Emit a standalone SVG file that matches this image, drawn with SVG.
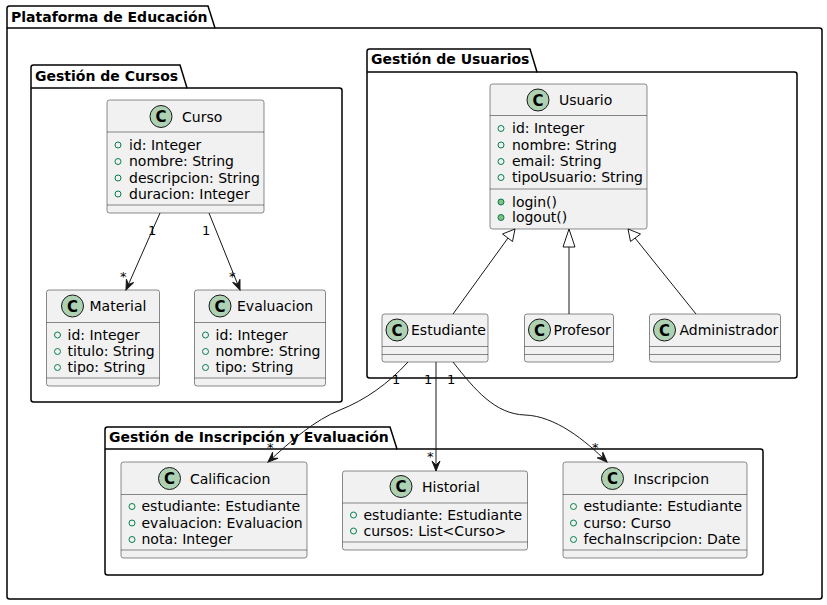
<svg xmlns="http://www.w3.org/2000/svg" width="827" height="605" viewBox="0 0 827 605">
<style>
.pkg{fill:none;stroke:#000;stroke-width:1.5}
.pt{font-family:"DejaVu Sans",sans-serif;font-size:14px;font-weight:bold;fill:#000}
.box{fill:#F1F1F1;stroke:#181818;stroke-width:0.5}
.sep{stroke:#181818;stroke-width:0.5}
.ci{fill:#ADD1B2;stroke:#181818;stroke-width:1}
.cl{font-family:"DejaVu Sans",sans-serif;font-size:15px;font-weight:bold;fill:#000;text-anchor:middle}
.nm{font-family:"DejaVu Sans",sans-serif;font-size:14px;fill:#000}
.at{font-family:"DejaVu Sans",sans-serif;font-size:14px;fill:#000}
.va{fill:none;stroke:#038048;stroke-width:1}
.vm{fill:#84BE84;stroke:#038048;stroke-width:1}
.ln{fill:none;stroke:#181818;stroke-width:1}
.ml{font-family:"DejaVu Sans",sans-serif;font-size:13px;fill:#000}
.tri{fill:none;stroke:#181818;stroke-width:1}
</style>
<defs>
<marker id="arr" markerUnits="userSpaceOnUse" markerWidth="14" markerHeight="12" refX="11" refY="5" orient="auto" viewBox="0 0 14 10">
<path d="M11,5 L1,1 L5,5 L1,9 Z" fill="#181818" stroke="#181818" stroke-width="1"/>
</marker>
</defs>

<g id="pkg-plataforma">
<path class="pkg" d="M7,8.5 Q7,6 9.5,6 L208,6 L215,28 L819.5,28 Q822,28 822,30.5 L822,596.5 Q822,599 819.5,599 L9.5,599 Q7,599 7,596.5 Z"/>
<line class="pkg" x1="7" y1="28" x2="215" y2="28"/>
<text class="pt" x="11" y="22">Plataforma de Educación</text>
</g>

<g id="pkg-cursos">
<path class="pkg" d="M31,67.5 Q31,65 33.5,65 L180,65 L187,88 L339.5,88 Q342,88 342,90.5 L342,399.5 Q342,402 339.5,402 L33.5,402 Q31,402 31,399.5 Z"/>
<line class="pkg" x1="31" y1="88" x2="187" y2="88"/>
<text class="pt" x="35" y="81">Gestión de Cursos</text>
</g>

<g id="pkg-usuarios">
<path class="pkg" d="M367,51.5 Q367,49 369.5,49 L530,49 L537,72 L794.5,72 Q797,72 797,74.5 L797,375.5 Q797,378 794.5,378 L369.5,378 Q367,378 367,375.5 Z"/>
<line class="pkg" x1="367" y1="72" x2="537" y2="72"/>
<text class="pt" x="371" y="64">Gestión de Usuarios</text>
</g>

<g id="pkg-inscripcion">
<path class="pkg" d="M105,429.5 Q105,427 107.5,427 L390,427 L397,449 L760.5,449 Q763,449 763,451.5 L763,572.5 Q763,575 760.5,575 L107.5,575 Q105,575 105,572.5 Z"/>
<line class="pkg" x1="105" y1="449" x2="397" y2="449"/>
<text class="pt" x="109" y="442">Gestión de Inscripción y Evaluación</text>
</g>

<g id="Curso">
<rect class="box" x="107" y="100" width="157" height="113" rx="2.5"/>
<circle class="ci" cx="161" cy="116.5" r="11"/>
<text class="cl" x="161" y="122">C</text>
<text class="nm" x="182" y="121.5">Curso</text>
<line class="sep" x1="107" y1="132" x2="264" y2="132"/>
<circle class="va" cx="118" cy="145" r="3"/><text class="at" x="129" y="149.5">id: Integer</text>
<circle class="va" cx="118" cy="161.5" r="3"/><text class="at" x="129" y="166">nombre: String</text>
<circle class="va" cx="118" cy="178" r="3"/><text class="at" x="129" y="182.5">descripcion: String</text>
<circle class="va" cx="118" cy="194" r="3"/><text class="at" x="129" y="198.5">duracion: Integer</text>
<line class="sep" x1="107" y1="205" x2="264" y2="205"/>
</g>

<g id="Material">
<rect class="box" x="46.5" y="290" width="113" height="96" rx="2.5"/>
<circle class="ci" cx="72.5" cy="306" r="11"/>
<text class="cl" x="72.5" y="311.5">C</text>
<text class="nm" x="89.5" y="311">Material</text>
<line class="sep" x1="46.5" y1="322.5" x2="159.5" y2="322.5"/>
<circle class="va" cx="57.5" cy="335" r="3"/><text class="at" x="67.5" y="339.5">id: Integer</text>
<circle class="va" cx="57.5" cy="351.5" r="3"/><text class="at" x="67.5" y="356">titulo: String</text>
<circle class="va" cx="57.5" cy="367.5" r="3"/><text class="at" x="67.5" y="372">tipo: String</text>
<line class="sep" x1="46.5" y1="378" x2="159.5" y2="378"/>
</g>

<g id="Evaluacion">
<rect class="box" x="194.5" y="290" width="131" height="96" rx="2.5"/>
<circle class="ci" cx="220" cy="306" r="11"/>
<text class="cl" x="220" y="311.5">C</text>
<text class="nm" x="237" y="311">Evaluacion</text>
<line class="sep" x1="194.5" y1="322.5" x2="325.5" y2="322.5"/>
<circle class="va" cx="205.5" cy="335" r="3"/><text class="at" x="215.5" y="339.5">id: Integer</text>
<circle class="va" cx="205.5" cy="351.5" r="3"/><text class="at" x="215.5" y="356">nombre: String</text>
<circle class="va" cx="205.5" cy="367.5" r="3"/><text class="at" x="215.5" y="372">tipo: String</text>
<line class="sep" x1="194.5" y1="378" x2="325.5" y2="378"/>
</g>

<g id="Usuario">
<rect class="box" x="490" y="84" width="157" height="145" rx="2.5"/>
<circle class="ci" cx="538" cy="100" r="11"/>
<text class="cl" x="538" y="105.5">C</text>
<text class="nm" x="559" y="105">Usuario</text>
<line class="sep" x1="490" y1="115.5" x2="647" y2="115.5"/>
<circle class="va" cx="501" cy="128.5" r="3"/><text class="at" x="512" y="133">id: Integer</text>
<circle class="va" cx="501" cy="145" r="3"/><text class="at" x="512" y="149.5">nombre: String</text>
<circle class="va" cx="501" cy="161.5" r="3"/><text class="at" x="512" y="166">email: String</text>
<circle class="va" cx="501" cy="177.5" r="3"/><text class="at" x="512" y="182">tipoUsuario: String</text>
<line class="sep" x1="490" y1="189" x2="647" y2="189"/>
<circle class="vm" cx="501" cy="202" r="3"/><text class="at" x="512" y="206.5">login()</text>
<circle class="vm" cx="501" cy="217.5" r="3"/><text class="at" x="512" y="222">logout()</text>
</g>

<g id="Estudiante">
<rect class="box" x="382" y="314" width="106" height="48" rx="2.5"/>
<circle class="ci" cx="397" cy="330" r="11"/>
<text class="cl" x="397" y="335.5">C</text>
<text class="nm" x="411" y="335">Estudiante</text>
<line class="sep" x1="382" y1="346.5" x2="488" y2="346.5"/>
<line class="sep" x1="382" y1="354.5" x2="488" y2="354.5"/>
</g>

<g id="Profesor">
<rect class="box" x="524.5" y="314" width="89" height="48" rx="2.5"/>
<circle class="ci" cx="539.5" cy="330" r="11"/>
<text class="cl" x="539.5" y="335.5">C</text>
<text class="nm" x="553.5" y="335">Profesor</text>
<line class="sep" x1="524.5" y1="346.5" x2="613.5" y2="346.5"/>
<line class="sep" x1="524.5" y1="354.5" x2="613.5" y2="354.5"/>
</g>

<g id="Administrador">
<rect class="box" x="649.5" y="314" width="131" height="48" rx="2.5"/>
<circle class="ci" cx="664.5" cy="330" r="11"/>
<text class="cl" x="664.5" y="335.5">C</text>
<text class="nm" x="679.5" y="335">Administrador</text>
<line class="sep" x1="649.5" y1="346.5" x2="780.5" y2="346.5"/>
<line class="sep" x1="649.5" y1="354.5" x2="780.5" y2="354.5"/>
</g>

<g id="Calificacion">
<rect class="box" x="121" y="462" width="186" height="96" rx="2.5"/>
<circle class="ci" cx="169.5" cy="478.5" r="11"/>
<text class="cl" x="169.5" y="484">C</text>
<text class="nm" x="190" y="483.5">Calificacion</text>
<line class="sep" x1="121" y1="494.5" x2="307" y2="494.5"/>
<circle class="va" cx="132" cy="506.5" r="3"/><text class="at" x="141.5" y="511">estudiante: Estudiante</text>
<circle class="va" cx="132" cy="523" r="3"/><text class="at" x="141.5" y="527.5">evaluacion: Evaluacion</text>
<circle class="va" cx="132" cy="539.5" r="3"/><text class="at" x="141.5" y="544">nota: Integer</text>
<line class="sep" x1="121" y1="550" x2="307" y2="550"/>
</g>

<g id="Historial">
<rect class="box" x="342.5" y="471" width="185" height="79" rx="2.5"/>
<circle class="ci" cx="401" cy="486.5" r="11"/>
<text class="cl" x="401" y="492">C</text>
<text class="nm" x="422" y="491.5">Historial</text>
<line class="sep" x1="342.5" y1="503" x2="527.5" y2="503"/>
<circle class="va" cx="353.5" cy="515" r="3"/><text class="at" x="363.5" y="519.5">estudiante: Estudiante</text>
<circle class="va" cx="353.5" cy="531" r="3"/><text class="at" x="363.5" y="535.5">cursos: List&lt;Curso&gt;</text>
<line class="sep" x1="342.5" y1="542" x2="527.5" y2="542"/>
</g>

<g id="Inscripcion">
<rect class="box" x="563" y="462" width="184" height="96" rx="2.5"/>
<circle class="ci" cx="612.5" cy="478.5" r="11"/>
<text class="cl" x="612.5" y="484">C</text>
<text class="nm" x="633.5" y="483.5">Inscripcion</text>
<line class="sep" x1="563" y1="494.5" x2="747" y2="494.5"/>
<circle class="va" cx="573.5" cy="506.5" r="3"/><text class="at" x="583.5" y="511">estudiante: Estudiante</text>
<circle class="va" cx="573.5" cy="523" r="3"/><text class="at" x="583.5" y="527.5">curso: Curso</text>
<circle class="va" cx="573.5" cy="539.5" r="3"/><text class="at" x="583.5" y="544">fechaInscripcion: Date</text>
<line class="sep" x1="563" y1="550" x2="747" y2="550"/>
</g>

<g id="connectors">
<!-- Curso associations -->
<line class="ln" x1="160" y1="213" x2="126" y2="290" marker-end="url(#arr)"/>
<text class="ml" x="148" y="235">1</text>
<text class="ml" x="120" y="281">*</text>
<line class="ln" x1="209" y1="213" x2="240" y2="290" marker-end="url(#arr)"/>
<text class="ml" x="202" y="235">1</text>
<text class="ml" x="229" y="281">*</text>

<!-- Inheritance -->
<line class="ln" x1="453" y1="314" x2="508" y2="238"/>
<path class="tri" d="M515,229 L502.5,234 L512.5,241.5 Z"/>
<line class="ln" x1="569" y1="314" x2="569" y2="247"/>
<path class="tri" d="M569,229 L563,247 L575,247 Z"/>
<line class="ln" x1="696" y1="314" x2="635" y2="238"/>
<path class="tri" d="M628,229 L630.5,241.5 L640.5,234 Z"/>

<!-- Estudiante associations -->
<path class="ln" d="M408,362 C388,384 365,400 340,410 C315,420 292,440 268,462" marker-end="url(#arr)"/>
<text class="ml" x="392" y="384">1</text>
<text class="ml" x="267" y="452">*</text>
<line class="ln" x1="436" y1="362" x2="436" y2="471" marker-end="url(#arr)"/>
<text class="ml" x="424" y="384">1</text>
<text class="ml" x="427" y="461">*</text>
<path class="ln" d="M453,362 C475,390 495,414 525,415 C555,416 585,440 607,462" marker-end="url(#arr)"/>
<text class="ml" x="447" y="384">1</text>
<text class="ml" x="592" y="452">*</text>
</g>
</svg>
